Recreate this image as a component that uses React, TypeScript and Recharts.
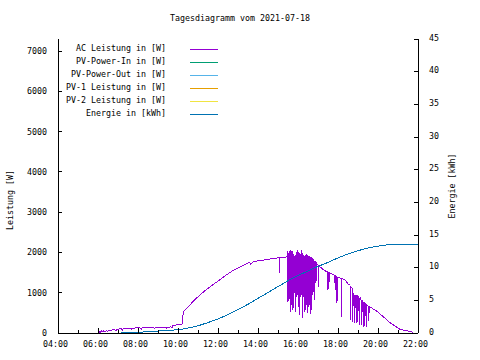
import React from "react";
import { LineChart, Line, XAxis, YAxis, Legend, Label } from "recharts";

const FONT = "'DejaVu Sans Mono', 'Liberation Mono', monospace";
const FS = 8.3;

const title = "Tagesdiagramm vom 2021-07-18";
const hourTicks = [4, 5, 6, 7, 8, 9, 10, 11, 12, 13, 14, 15, 16, 17, 18, 19, 20, 21, 22];
const powerTicks = [0, 1000, 2000, 3000, 4000, 5000, 6000, 7000];
const energyTicks = [0, 5, 10, 15, 20, 25, 30, 35, 40, 45];

const legendLabels = [
  "AC Leistung in [W]",
  "PV-Power-In in [W]",
  "PV-Power-Out in [W]",
  "PV-1 Leistung in [W]",
  "PV-2 Leistung in [W]",
  "Energie in [kWh]",
];
const legendColors = ["#9400d3", "#009e73", "#56b4e9", "#e69f00", "#f0e442", "#0072b2"];

// AC Leistung, Zeit / Watt
const acTime = [
  "06:00", "06:03", "06:06", "06:10", "06:13", "06:17", "06:20", "06:25", "06:28", "06:33",
  "06:37", "06:42", "06:50", "06:53", "06:58", "07:05", "07:10", "07:13", "07:16", "07:25",
  "07:35", "07:40", "07:43", "07:55", "08:05", "08:10", "08:13", "08:30", "08:45", "08:50",
  "08:53", "09:05", "09:20", "09:25", "09:28", "09:38", "09:42", "09:45", "09:55", "10:05",
  "10:13", "10:15", "10:18", "10:25", "10:35", "10:45", "11:00", "11:15", "11:30", "11:45",
  "12:00", "12:15", "12:30", "12:45", "13:00", "13:15", "13:30", "13:35", "13:38", "13:45",
  "14:00", "14:15", "14:30", "14:45", "15:00", "15:03", "15:04", "15:05", "15:15", "15:28",
  "15:29", "15:30", "15:32", "15:33", "15:34", "15:36", "15:37", "15:38", "15:40", "15:41",
  "15:42", "15:44", "15:45", "15:46", "15:48", "15:49", "15:50", "15:52", "15:53", "15:54",
  "15:56", "15:57", "15:58", "16:00", "16:01", "16:02", "16:04", "16:05", "16:06", "16:08",
  "16:09", "16:10", "16:12", "16:13", "16:14", "16:16", "16:17", "16:18", "16:20", "16:21",
  "16:22", "16:24", "16:25", "16:26", "16:28", "16:29", "16:30", "16:32", "16:33", "16:34",
  "16:36", "16:37", "16:38", "16:40", "16:41", "16:42", "16:44", "16:45", "16:46", "16:48",
  "16:49", "16:50", "16:53", "16:54", "16:55", "16:58", "17:01", "17:02", "17:03", "17:10",
  "17:15", "17:20", "17:25", "17:28", "17:30", "17:31", "17:33", "17:34", "17:40", "17:45",
  "17:50", "17:52", "17:53", "17:56", "17:57", "17:58", "18:05", "18:10", "18:11", "18:12",
  "18:20", "18:25", "18:30", "18:36", "18:37", "18:39", "18:42", "18:44", "18:46", "18:48",
  "18:50", "18:52", "18:55", "18:57", "18:59", "19:02", "19:04", "19:06", "19:09", "19:11",
  "19:13", "19:16", "19:18", "19:20", "19:23", "19:25", "19:27", "19:30", "19:32", "19:34",
  "19:40", "19:45", "19:51", "20:00", "20:06", "20:21", "20:36", "20:51", "21:06", "21:26",
  "21:41", "21:44",
];
const acWatt = [
  10, 40, 15, 50, 25, 55, 30, 60, 40, 70,
  50, 80, 85, 60, 95, 100, 105, 75, 110, 115,
  118, 90, 122, 125, 128, 100, 130, 133, 136, 110,
  138, 140, 142, 115, 145, 150, 130, 185, 200, 215,
  225, 450, 540, 600, 690, 780, 900, 1010, 1110, 1200,
  1290, 1380, 1470, 1550, 1610, 1680, 1740, 1760, 1700, 1770,
  1790, 1810, 1830, 1850, 1865, 1870, 1500, 1865, 1880, 1890,
  780, 1980, 1950, 800, 2040, 2000, 530, 2020, 1990, 700,
  2030, 1960, 560, 1900, 1950, 1000, 1920, 1880, 530, 1930,
  2010, 900, 2050, 2040, 650, 2000, 1950, 450, 1800, 1950,
  900, 2050, 2060, 370, 1950, 1930, 900, 1900, 1910, 520,
  1920, 1900, 700, 1930, 1910, 500, 1900, 1890, 650, 1880,
  1900, 470, 1870, 1880, 570, 1860, 1850, 950, 1820, 1800,
  820, 1780, 1760, 1250, 1740, 1700, 1680, 1140, 1660, 1620,
  1580, 1550, 1530, 1520, 1070, 1510, 1250, 1500, 1480, 1450,
  1430, 1070, 1420, 1400, 750, 1390, 1370, 1360, 400, 1350,
  1320, 1280, 1220, 1200, 320, 1150, 1120, 280, 1000, 950,
  250, 940, 920, 250, 930, 900, 200, 880, 820, 200,
  800, 760, 150, 750, 720, 150, 700, 680, 300, 660,
  630, 600, 570, 520, 470, 370, 256, 174, 92, 57,
  32, 20,
];

// Energie, Zeit / kWh
const energyTime = [
  "07:10", "07:30", "08:00", "08:30", "09:00", "09:30", "10:00", "10:15", "10:30", "11:00",
  "11:30", "12:00", "12:30", "13:00", "13:30", "14:00", "14:30", "15:00", "15:30", "16:00",
  "16:30", "17:00", "17:30", "18:00", "18:30", "19:00", "19:30", "20:00", "20:30", "21:00",
  "21:30", "22:00",
];
const energyKwh = [
  0, 0.05, 0.1, 0.2, 0.3, 0.4, 0.5, 0.6, 0.75, 1.1,
  1.6, 2.15, 2.8, 3.6, 4.4, 5.3, 6.2, 7.1, 8.0, 8.8,
  9.5, 10.2, 10.8, 11.5, 12.1, 12.6, 13.0, 13.3, 13.5, 13.6,
  13.6, 13.6,
];

const toHours = (s: string) => {
  const [h, m] = s.split(":").map(Number);
  return h + m / 60;
};

const acData = acTime.map((t, i) => ({ t: toHours(t), w: acWatt[i] }));
const energyData = energyTime.map((t, i) => ({ t: toHours(t), e: energyKwh[i] }));

const txt = { fontFamily: FONT, fontSize: FS, fill: "#000" };
const pad = (n: number) => (n < 10 ? "0" + n : "" + n);

const BottomTick = (p: any) => {
  const { x, y, payload } = p;
  const h = payload.value;
  const major = h % 2 === 0;
  const edge = y - 11;
  return (
    <g>
      <line x1={x} x2={x} y1={edge} y2={edge - (major ? 5 : 3)} stroke="#000" />
      {major && (
        <text x={x - 2.5} y={y} textAnchor="middle" dominantBaseline="central" style={txt}>
          {pad(h) + ":00"}
        </text>
      )}
    </g>
  );
};

const TopTick = (p: any) => {
  const { x, y, payload } = p;
  const major = payload.value % 2 === 0;
  return <line x1={x} x2={x} y1={y} y2={y + (major ? 4 : 3)} stroke="#000" />;
};

const LeftTick = (p: any) => {
  const { x, y, payload } = p;
  const edge = x + 11;
  return (
    <g>
      <line x1={edge} x2={edge + 4} y1={y} y2={y} stroke="#000" />
      <text x={x} y={y} textAnchor="end" dominantBaseline="central" style={txt}>
        {payload.value}
      </text>
    </g>
  );
};

const MirrorTick = (p: any) => {
  const { x, y } = p;
  return <line x1={x} x2={x - 4} y1={y} y2={y} stroke="#000" />;
};

const RightTick = (p: any) => {
  const { x, y, payload } = p;
  const edge = x - 11;
  return (
    <g>
      <line x1={edge} x2={edge - 4} y1={y} y2={y} stroke="#000" />
      <text x={x} y={y - 1.5} textAnchor="start" dominantBaseline="central" style={txt}>
        {payload.value}
      </text>
    </g>
  );
};

const LegendBox = () => (
  <svg width={170} height={82} style={{ display: "block" }}>
    {legendLabels.map((label, i) => {
      const y = 9.5 + i * 13;
      return (
        <g key={label}>
          <text x={106} y={y - 2} textAnchor="end" dominantBaseline="central" style={txt}>
            {label}
          </text>
          <line x1={130} x2={158} y1={y} y2={y} stroke={legendColors[i]} strokeWidth={1} />
        </g>
      );
    })}
  </svg>
);

const axisTitle = (text: string, dx: number, dy: number) => (props: any) => {
  const vb = props.viewBox;
  const cx = vb.x + dx;
  const cy = vb.y + vb.height / 2 + dy;
  return (
    <text
      x={cx}
      y={cy}
      transform={`rotate(-90, ${cx}, ${cy})`}
      textAnchor="middle"
      dominantBaseline="central"
      style={txt}
    >
      {text}
    </text>
  );
};

export default function App() {
  return (
    <div
      style={{
        position: "absolute",
        left: 0,
        top: 0,
        width: 480,
        height: 360,
        background: "#fff",
        fontFamily: FONT,
        shapeRendering: "crispEdges",
      }}
    >
      <div
        style={{
          position: "absolute",
          left: 0,
          top: 12,
          width: 480,
          lineHeight: "12px",
          textAlign: "center",
          fontSize: FS,
          zIndex: 2,
        }}
      >
        {title}
      </div>
      <LineChart width={480} height={360} margin={{ top: 39, right: 0, bottom: 0, left: 0 }}>
        <XAxis
          xAxisId="b"
          dataKey="t"
          type="number"
          domain={[4, 22]}
          ticks={hourTicks}
          interval={0}
          height={27}
          tickSize={0}
          tickMargin={11}
          tickLine={false}
          axisLine={{ stroke: "#000" }}
          tick={BottomTick}
          allowDataOverflow
        />
        <XAxis
          xAxisId="top"
          orientation="top"
          type="number"
          domain={[4, 22]}
          ticks={hourTicks}
          interval={0}
          height={0}
          tickSize={0}
          tickMargin={0}
          tickLine={false}
          axisLine={{ stroke: "#000" }}
          tick={TopTick}
        />
        <YAxis
          yAxisId="p"
          domain={[0, 7300]}
          ticks={powerTicks}
          interval={0}
          width={58}
          tickSize={0}
          tickMargin={11}
          tickLine={false}
          axisLine={{ stroke: "#000" }}
          tick={LeftTick}
          allowDataOverflow
        >
          <Label content={axisTitle("Leistung [W]", 10, 14)} />
        </YAxis>
        <YAxis
          yAxisId="pm"
          orientation="right"
          domain={[0, 7300]}
          ticks={powerTicks}
          interval={0}
          width={0}
          tickSize={0}
          tickMargin={0}
          tickLine={false}
          axisLine={false}
          tick={MirrorTick}
        />
        <YAxis
          yAxisId="e"
          orientation="right"
          domain={[0, 45]}
          ticks={energyTicks}
          interval={0}
          width={62}
          tickSize={0}
          tickMargin={11}
          tickLine={false}
          axisLine={{ stroke: "#000" }}
          tick={RightTick}
          allowDataOverflow
        >
          <Label content={axisTitle("Energie [kWh]", 34, 0)} />
        </YAxis>
        <Legend
          layout="vertical"
          align="center"
          verticalAlign="middle"
          content={LegendBox}
          wrapperStyle={{ left: 60, top: 40, width: 170, height: 82 }}
        />
        <Line
          xAxisId="b"
          yAxisId="p"
          data={acData}
          dataKey="w"
          type="linear"
          stroke={legendColors[0]}
          strokeWidth={1}
          dot={false}
          isAnimationActive={false}
        />
        <Line
          xAxisId="b"
          yAxisId="e"
          data={energyData}
          dataKey="e"
          type="linear"
          stroke={legendColors[5]}
          strokeWidth={1}
          dot={false}
          isAnimationActive={false}
        />
      </LineChart>
    </div>
  );
}
